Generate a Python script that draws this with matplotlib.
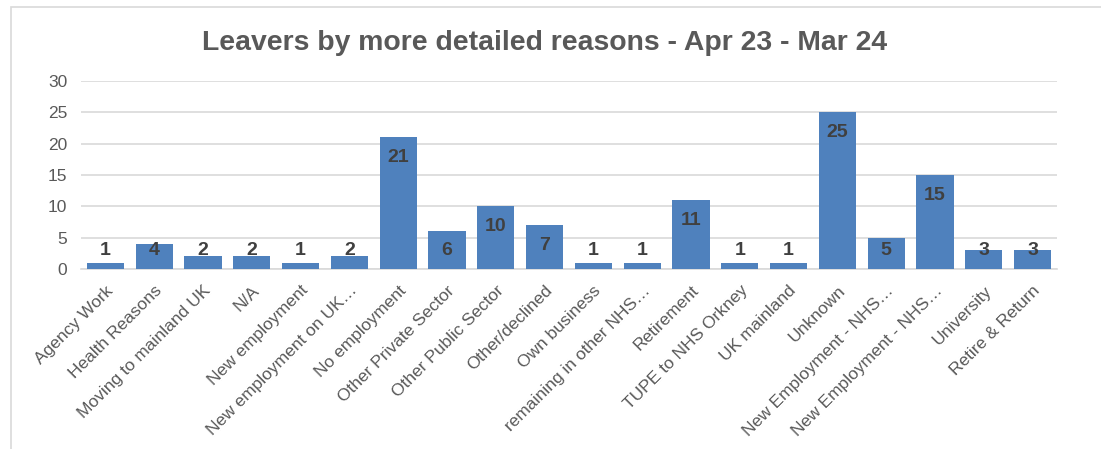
import matplotlib
matplotlib.use('Agg')
import matplotlib.pyplot as plt
from matplotlib.patches import Rectangle

plt.rcParams['font.family'] = ['Liberation Sans', 'DejaVu Sans']

reasons = [
    'Agency Work', 'Health Reasons', 'Moving to mainland UK', 'N/A',
    'New employment', 'New employment on UK…', 'No employment',
    'Other Private Sector', 'Other Public Sector', 'Other/declined',
    'Own business', 'remaining in other NHS…', 'Retirement',
    'TUPE to NHS Orkney', 'UK mainland', 'Unknown',
    'New Employment - NHS…', 'New Employment - NHS…', 'University',
    'Retire & Return',
]
leavers = [1, 4, 2, 2, 1, 2, 21, 6, 10, 7, 1, 1, 11, 1, 1, 25, 5, 15, 3, 3]
y_ticks = [0, 5, 10, 15, 20, 25, 30]

BAR = '#4F81BD'
GRID = '#D9D9D9'
TXT = '#595959'

W, H = 1101, 449
fig = plt.figure(figsize=(W / 100, H / 100), dpi=100)
fig.patch.set_facecolor('white')

# chart-area frame (runs off the right and bottom edges)
fig.patches.append(Rectangle((11 / W, -0.1), 1.2, 1 - 7 / H + 0.1,
                             transform=fig.transFigure, fill=False,
                             edgecolor=GRID, lw=1.2))

ax = fig.add_axes([81 / W, 1 - 269 / H, (1057 - 81) / W, (269 - 81) / H])
x = list(range(len(reasons)))
ax.bar(x, leavers, width=0.76, color=BAR, zorder=3)

for xi, v in zip(x, leavers):
    ax.text(xi, max(v - 3.2, 2.9), str(v), ha='center', va='center',
            fontsize=14, fontweight='bold', color='#404040', zorder=4)

ax.set_xlim(-0.5, len(reasons) - 0.5)
ax.set_ylim(0, 30)
ax.set_yticks(y_ticks)
ax.yaxis.grid(True, color=GRID, lw=1.2, zorder=0)
ax.set_axisbelow(True)
for s in ['top', 'right', 'left']:
    ax.spines[s].set_visible(False)
ax.spines['bottom'].set_color(GRID)
ax.spines['bottom'].set_linewidth(1.2)
ax.tick_params(axis='both', length=0, labelsize=12.5, colors=TXT)
ax.tick_params(axis='y', pad=10)
ax.set_xticks(x)
ax.set_xticklabels(reasons, rotation=45, ha='right', rotation_mode='anchor',
                   color=TXT)
ax.tick_params(axis='x', pad=10)

fig.text(545 / W, 1 - 49.5 / H, 'Leavers by more detailed reasons - Apr 23 - Mar 24',
         ha='center', va='baseline', fontsize=20.4, fontweight='bold', color=TXT)

fig.savefig('out.png', dpi=100, facecolor='white')
